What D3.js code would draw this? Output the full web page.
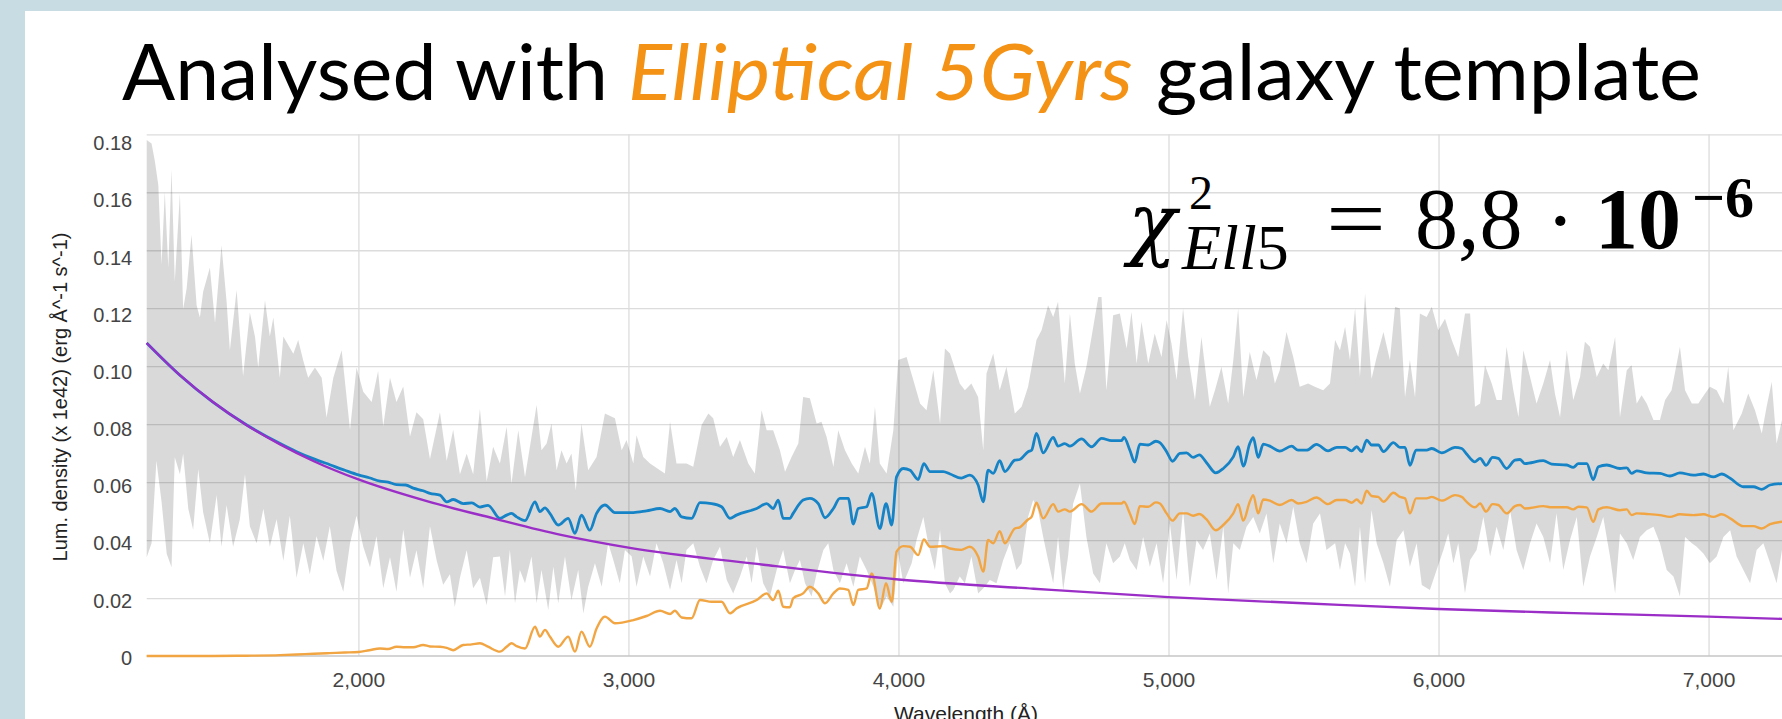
<!DOCTYPE html>
<html>
<head>
<meta charset="utf-8">
<script src="https://cdn.jsdelivr.net/npm/d3@7"></script>
<style>
  body { margin: 0; background: #c8dce4; overflow: hidden; }
  svg { display: block; }
</style>
</head>
<body>
<svg id="chart"></svg>
<script>
// Ticks
var xTicks = [2000, 3000, 4000, 5000, 6000, 7000];
var yTicks = [0, 0.02, 0.04, 0.06, 0.08, 0.10, 0.12, 0.14, 0.16, 0.18];
var yTickLabels = ["0", "0.02", "0.04", "0.06", "0.08", "0.10", "0.12", "0.14", "0.16", "0.18"];

// Observed spectrum uncertainty band, [wavelength, value]
var bandTop = [
  [1216,0.178],[1234,0.1768],[1246,0.1709],[1259,0.1625],[1271,0.1352],[1283,0.1602],[1296,0.134],[1308,0.1679],[1320,0.1292],[1339,0.1596],
  [1351,0.1197],[1364,0.1269],[1382,0.1453],[1401,0.1209],[1413,0.1168],[1425,0.1257],[1450,0.134],[1469,0.115],[1493,0.1417],[1512,0.1221],
  [1524,0.1055],[1549,0.1263],[1573,0.0966],[1598,0.1185],[1617,0.1102],[1629,0.0995],[1654,0.1227],[1672,0.1102],[1685,0.1168],[1709,0.096],
  [1722,0.1102],[1759,0.1043],[1777,0.109],[1796,0.1019],[1814,0.096],[1839,0.0995],[1864,0.096],[1882,0.0823],[1907,0.096],[1938,0.1055],
  [1969,0.0781],[1993,0.0995],[2018,0.0912],[2049,0.0876],[2073,0.0983],[2092,0.0793],[2117,0.096],[2141,0.0876],[2166,0.093],[2191,0.0757],
  [2215,0.0841],[2240,0.0817],[2265,0.068],[2302,0.0841],[2327,0.0674],[2351,0.0781],[2376,0.0627],[2401,0.0698],[2425,0.0627],[2450,0.0853],
  [2475,0.0603],[2499,0.0722],[2524,0.0664],[2549,0.0791],[2567,0.0595],[2592,0.0779],[2617,0.0618],[2641,0.0756],[2660,0.0866],[2678,0.071],
  [2697,0.0733],[2715,0.0802],[2734,0.0641],[2752,0.071],[2771,0.0664],[2789,0.0699],[2805,0.0572],[2826,0.0802],[2851,0.0641],[2882,0.0687],
  [2913,0.0837],[2950,0.082],[2975,0.071],[2993,0.0745],[3018,0.0664],[3030,0.0762],[3055,0.0687],[3080,0.0664],[3117,0.0641],[3135,0.063],
  [3154,0.0808],[3178,0.0664],[3215,0.0664],[3240,0.0653],[3271,0.0797],[3296,0.0837],[3314,0.082],[3339,0.0722],[3364,0.0756],[3388,0.0687],
  [3413,0.0745],[3444,0.0664],[3468,0.063],[3493,0.0848],[3512,0.0779],[3536,0.0779],[3561,0.071],[3580,0.0636],[3604,0.0687],[3629,0.0733],
  [3647,0.0894],[3672,0.0889],[3697,0.0802],[3715,0.0808],[3734,0.0756],[3759,0.0653],[3777,0.0779],[3802,0.071],[3827,0.0664],[3851,0.063],
  [3876,0.0722],[3894,0.0664],[3913,0.086],[3931,0.0664],[3956,0.063],[3981,0.0779],[3999,0.1021],[4030,0.1032],[4055,0.0952],[4080,0.0871],
  [4104,0.0848],[4129,0.0986],[4154,0.0802],[4172,0.1061],[4191,0.1044],[4227,0.094],[4246,0.0917],[4270,0.094],[4295,0.0894],[4314,0.071],
  [4326,0.0975],[4351,0.1044],[4375,0.0917],[4400,0.0998],[4431,0.0837],[4456,0.086],[4480,0.0929],[4511,0.109],[4530,0.1124],[4554,0.121],
  [4573,0.117],[4591,0.1222],[4616,0.094],[4635,0.1182],[4653,0.1009],[4672,0.0906],[4696,0.0998],[4715,0.1101],[4740,0.1239],[4752,0.1239],
  [4770,0.0917],[4795,0.1176],[4820,0.1182],[4845,0.1061],[4863,0.1187],[4882,0.1009],[4900,0.1153],[4925,0.1009],[4949,0.1113],[4974,0.1032],
  [4993,0.1159],[5011,0.1078],[5030,0.0952],[5054,0.1199],[5073,0.1032],[5098,0.0883],[5122,0.1101],[5153,0.086],[5172,0.0917],[5196,0.0998],
  [5221,0.0871],[5240,0.1021],[5258,0.1199],[5277,0.0894],[5301,0.1049],[5326,0.0952],[5351,0.1055],[5375,0.1032],[5394,0.094],[5412,0.0986],
  [5437,0.1118],[5462,0.1032],[5486,0.0929],[5517,0.094],[5542,0.0929],[5573,0.0917],[5598,0.094],[5617,0.109],[5635,0.1055],[5654,0.1136],
  [5672,0.1021],[5691,0.1199],[5709,0.0963],[5728,0.1251],[5752,0.0957],[5771,0.1032],[5796,0.1118],[5820,0.1021],[5839,0.1205],[5857,0.1199],
  [5876,0.0894],[5894,0.1021],[5913,0.0894],[5931,0.1182],[5956,0.117],[5975,0.1205],[5999,0.1124],[6024,0.1164],[6049,0.109],[6073,0.1032],
  [6098,0.1182],[6117,0.1182],[6135,0.086],[6154,0.0871],[6172,0.1003],[6197,0.094],[6215,0.0883],[6234,0.0883],[6252,0.1067],[6277,0.0917],
  [6296,0.0825],[6314,0.1055],[6339,0.0963],[6363,0.0871],[6388,0.094],[6413,0.1021],[6431,0.0906],[6450,0.0825],[6475,0.1055],[6499,0.0883],
  [6524,0.0963],[6542,0.1084],[6561,0.1067],[6586,0.0963],[6610,0.1009],[6629,0.0986],[6654,0.1101],[6672,0.0825],[6697,0.0986],[6715,0.1003],
  [6734,0.0871],[6752,0.09],[6771,0.0871],[6796,0.0814],[6820,0.0814],[6839,0.0883],[6863,0.0917],[6894,0.1067],[6913,0.0917],[6938,0.0871],
  [6962,0.0871],[6987,0.0906],[7005,0.0929],[7030,0.0917],[7055,0.0871],[7073,0.0998],[7092,0.0779],[7123,0.0837],[7147,0.0906],[7172,0.0848],
  [7197,0.0768],[7215,0.086],[7234,0.0946],[7252,0.0733],[7272,0.0814]
];

var bandBottom = [
  [1216,0.0341],[1234,0.0389],[1252,0.0674],[1271,0.0532],[1290,0.0353],[1308,0.0306],[1320,0.0686],[1339,0.0627],[1351,0.0698],[1370,0.0508],
  [1388,0.0436],[1407,0.0644],[1425,0.0496],[1450,0.0389],[1475,0.0555],[1493,0.0377],[1512,0.052],[1536,0.0377],[1561,0.0472],[1580,0.0627],
  [1598,0.0448],[1623,0.0389],[1648,0.0508],[1672,0.0377],[1697,0.0472],[1722,0.0329],[1746,0.0484],[1771,0.027],[1796,0.0389],[1820,0.0282],
  [1845,0.0413],[1870,0.0329],[1894,0.0448],[1919,0.0294],[1944,0.0222],[1969,0.0389],[1993,0.0484],[2018,0.0377],[2043,0.0306],[2067,0.0413],
  [2092,0.0234],[2117,0.0341],[2141,0.0222],[2166,0.0436],[2191,0.027],[2215,0.0365],[2240,0.0234],[2265,0.0448],[2290,0.0329],[2314,0.0246],
  [2339,0.0282],[2357,0.0169],[2376,0.027],[2401,0.0365],[2425,0.0234],[2450,0.027],[2475,0.0175],[2499,0.0341],[2524,0.0343],[2543,0.0205],
  [2561,0.0366],[2580,0.0182],[2598,0.0297],[2617,0.0251],[2641,0.0343],[2660,0.0182],[2678,0.0297],[2703,0.0159],[2722,0.0308],[2740,0.0182],
  [2765,0.0343],[2789,0.0193],[2814,0.0297],[2833,0.0147],[2851,0.0239],[2876,0.032],[2901,0.0239],[2925,0.0389],[2944,0.0331],[2968,0.0251],
  [2987,0.0366],[3012,0.0343],[3030,0.0239],[3055,0.0343],[3080,0.0274],[3104,0.0389],[3129,0.032],[3154,0.0228],[3178,0.0331],[3197,0.0251],
  [3215,0.0366],[3240,0.0389],[3265,0.0308],[3289,0.0251],[3314,0.0331],[3339,0.0377],[3364,0.0262],[3388,0.0216],[3413,0.0274],[3438,0.0343],
  [3456,0.0251],[3475,0.0377],[3499,0.0251],[3524,0.0205],[3549,0.0297],[3573,0.0366],[3598,0.0251],[3617,0.0297],[3635,0.0331],[3654,0.0251],
  [3678,0.0205],[3697,0.0285],[3722,0.0366],[3740,0.0389],[3759,0.0297],[3783,0.0251],[3808,0.032],[3833,0.0239],[3857,0.0343],[3882,0.0297],
  [3907,0.0239],[3931,0.0159],[3956,0.0205],[3981,0.017],[3999,0.0354],[4018,0.0251],[4049,0.032],[4067,0.04],[4092,0.048],[4110,0.0389],
  [4135,0.0297],[4154,0.0434],[4172,0.0251],[4191,0.0216],[4203,0.0228],[4227,0.0274],[4246,0.0251],[4270,0.0343],[4295,0.0216],[4320,0.0239],
  [4338,0.0262],[4363,0.0251],[4388,0.0331],[4412,0.0389],[4437,0.0297],[4456,0.032],[4480,0.048],[4499,0.0538],[4517,0.0503],[4536,0.0411],
  [4554,0.0331],[4573,0.0251],[4591,0.0411],[4610,0.0228],[4628,0.0343],[4647,0.0526],[4672,0.0595],[4696,0.0411],[4721,0.0285],[4746,0.0251],
  [4770,0.0389],[4795,0.032],[4820,0.0343],[4838,0.0389],[4857,0.0331],[4882,0.0297],[4906,0.0411],[4931,0.0308],[4956,0.0389],[4980,0.0251],
  [5005,0.0457],[5030,0.0262],[5054,0.0503],[5079,0.0239],[5104,0.04],[5128,0.0366],[5153,0.0423],[5178,0.0262],[5203,0.0446],[5221,0.0216],
  [5240,0.0389],[5264,0.0366],[5289,0.0446],[5314,0.048],[5338,0.0423],[5363,0.0492],[5388,0.032],[5412,0.0457],[5437,0.0389],[5462,0.0515],
  [5486,0.0389],[5511,0.032],[5536,0.0457],[5561,0.0492],[5585,0.0366],[5617,0.0389],[5635,0.0297],[5654,0.0389],[5672,0.0354],[5691,0.0239],
  [5709,0.0446],[5728,0.0251],[5752,0.0503],[5771,0.0389],[5796,0.032],[5820,0.0239],[5845,0.04],[5870,0.0434],[5894,0.0308],[5919,0.0389],
  [5938,0.0245],[5968,0.0228],[5993,0.0297],[6018,0.0366],[6036,0.0423],[6055,0.032],[6073,0.0389],[6098,0.0216],[6117,0.0331],[6141,0.0366],
  [6166,0.048],[6191,0.0343],[6215,0.0446],[6240,0.0366],[6265,0.0503],[6289,0.0366],[6314,0.0297],[6339,0.0389],[6363,0.0457],[6388,0.0411],
  [6413,0.032],[6437,0.0492],[6462,0.0297],[6487,0.04],[6512,0.048],[6536,0.0239],[6561,0.0343],[6586,0.0411],[6610,0.048],[6635,0.0343],
  [6654,0.0216],[6672,0.0423],[6697,0.0389],[6721,0.0331],[6746,0.0411],[6771,0.0434],[6796,0.0446],[6820,0.0389],[6845,0.0297],[6870,0.0274],
  [6894,0.0205],[6913,0.0411],[6938,0.0389],[6956,0.0377],[6981,0.0354],[7005,0.032],[7030,0.0343],[7055,0.0411],[7080,0.0434],[7104,0.0343],
  [7129,0.0297],[7154,0.0251],[7178,0.0366],[7203,0.0389],[7228,0.032],[7252,0.0251],[7272,0.0366]
];

// Total fit (blue)
var totalFit = [
  [1216,0.108],[1340,0.0968],[1460,0.0877],[1585,0.0798],[1710,0.0733],[1771,0.0705],[1835,0.068],[1894,0.066],[1950,0.0641],[2000,0.0625],
  [2040,0.0615],[2080,0.0603],[2110,0.06],[2141,0.0591],[2175,0.059],[2203,0.0579],[2240,0.057],[2265,0.0561],[2302,0.0555],[2327,0.0532],
  [2351,0.054],[2388,0.0526],[2420,0.0528],[2450,0.0514],[2480,0.052],[2524,0.0475],[2549,0.0486],[2567,0.0492],[2586,0.048],[2617,0.0467],
  [2654,0.0532],[2672,0.0498],[2691,0.0511],[2709,0.0492],[2740,0.0452],[2777,0.0475],[2802,0.0423],[2826,0.0486],[2857,0.0434],[2882,0.0492],
  [2913,0.0521],[2950,0.0495],[3018,0.0495],[3067,0.0501],[3117,0.0509],[3154,0.0498],[3172,0.0509],[3197,0.048],[3234,0.0475],[3265,0.0529],
  [3308,0.0526],[3345,0.0515],[3376,0.0475],[3400,0.0486],[3475,0.0509],[3512,0.0526],[3536,0.0509],[3555,0.0538],[3573,0.0475],[3598,0.0475],
  [3610,0.0492],[3647,0.0538],[3672,0.0544],[3703,0.0526],[3728,0.0477],[3759,0.0509],[3783,0.0544],[3814,0.0544],[3833,0.0455],[3851,0.0509],
  [3882,0.0515],[3901,0.0561],[3931,0.044],[3954,0.0526],[3975,0.0452],[3993,0.0618],[4018,0.0647],[4043,0.0641],[4073,0.0609],[4094,0.0664],
  [4117,0.0636],[4166,0.0636],[4191,0.0628],[4233,0.0614],[4264,0.0624],[4295,0.059],[4314,0.0532],[4332,0.0641],[4351,0.063],[4375,0.0674],
  [4394,0.0636],[4431,0.0676],[4449,0.0678],[4480,0.0705],[4493,0.071],[4511,0.0768],[4536,0.0701],[4573,0.0754],[4591,0.0724],[4616,0.0733],
  [4635,0.0724],[4678,0.0749],[4715,0.0722],[4752,0.0751],[4789,0.0743],[4826,0.0743],[4835,0.0754],[4857,0.071],[4875,0.0669],[4894,0.0731],
  [4925,0.0728],[4953,0.0741],[4968,0.0736],[4993,0.0705],[5015,0.0672],[5042,0.0699],[5067,0.0701],[5091,0.0685],[5114,0.0694],[5141,0.0667],
  [5175,0.0632],[5203,0.0647],[5240,0.0687],[5258,0.0722],[5277,0.0655],[5301,0.0733],[5314,0.0753],[5332,0.0685],[5351,0.0731],[5375,0.0724],
  [5412,0.0707],[5456,0.0724],[5480,0.071],[5511,0.071],[5548,0.073],[5591,0.0708],[5623,0.072],[5654,0.072],[5678,0.0708],[5697,0.0722],
  [5715,0.0705],[5734,0.0745],[5752,0.0728],[5777,0.0728],[5796,0.0705],[5833,0.0736],[5857,0.072],[5876,0.072],[5894,0.0658],[5917,0.071],
  [5956,0.071],[5975,0.0716],[6012,0.0701],[6061,0.072],[6086,0.0716],[6104,0.0697],[6135,0.067],[6154,0.0682],[6176,0.0658],[6200,0.0685],
  [6221,0.0682],[6252,0.0647],[6283,0.0676],[6302,0.0678],[6320,0.0664],[6388,0.0674],[6419,0.0662],[6475,0.0659],[6499,0.0651],[6518,0.0664],
  [6549,0.0664],[6573,0.0609],[6592,0.0653],[6623,0.0659],[6672,0.0647],[6697,0.0649],[6715,0.063],[6734,0.0639],[6771,0.0632],[6820,0.063],
  [6857,0.0621],[6894,0.0632],[6944,0.0624],[6981,0.0628],[7018,0.0618],[7049,0.0628],[7080,0.0613],[7129,0.0584],[7166,0.0584],[7197,0.0575],
  [7228,0.059],[7272,0.0595]
];

// Galaxy template part (orange)
var galaxyFit = [
  [1216,0],[1340,0],[1460,0],[1585,0.0001],[1710,0.0003],[1771,0.0005],[1835,0.0008],[1894,0.001],[1950,0.0012],[2000,0.0014],
  [2040,0.002],[2080,0.0026],[2110,0.0024],[2141,0.0032],[2175,0.003],[2203,0.003],[2240,0.0038],[2265,0.0033],[2302,0.0032],[2327,0.0028],
  [2351,0.002],[2388,0.0038],[2420,0.004],[2450,0.0044],[2480,0.0032],[2524,0.0015],[2549,0.0032],[2567,0.0044],[2586,0.0034],[2617,0.0026],
  [2654,0.0101],[2672,0.0067],[2691,0.009],[2709,0.0067],[2740,0.0032],[2777,0.0067],[2802,0.0015],[2826,0.0084],[2857,0.0032],[2882,0.0095],
  [2913,0.0136],[2950,0.0113],[3018,0.0124],[3067,0.0138],[3117,0.0156],[3154,0.0145],[3172,0.0156],[3197,0.0133],[3234,0.013],[3265,0.0193],
  [3308,0.0187],[3345,0.0187],[3376,0.0147],[3400,0.0164],[3475,0.0193],[3512,0.0216],[3536,0.0193],[3555,0.0225],[3573,0.017],[3598,0.0168],
  [3610,0.0199],[3647,0.0216],[3672,0.0239],[3703,0.0216],[3728,0.0182],[3759,0.0216],[3783,0.0233],[3814,0.0228],[3833,0.0176],[3851,0.0228],
  [3882,0.0233],[3901,0.0285],[3931,0.0164],[3954,0.0251],[3975,0.0187],[3993,0.036],[4018,0.0379],[4043,0.0377],[4073,0.0348],[4094,0.0402],
  [4117,0.0377],[4166,0.0379],[4191,0.0371],[4233,0.0366],[4264,0.0377],[4295,0.0343],[4314,0.0291],[4332,0.04],[4351,0.0389],[4375,0.0431],
  [4394,0.0389],[4431,0.044],[4449,0.0444],[4480,0.0471],[4493,0.048],[4511,0.0529],[4536,0.0475],[4573,0.0524],[4591,0.0498],[4616,0.0506],
  [4635,0.0498],[4678,0.0524],[4715,0.0498],[4752,0.0526],[4789,0.0526],[4826,0.0526],[4835,0.0532],[4857,0.0492],[4875,0.0455],[4894,0.0517],
  [4925,0.0515],[4953,0.053],[4968,0.0526],[4993,0.0492],[5015,0.0467],[5042,0.0492],[5067,0.0492],[5091,0.0484],[5114,0.049],[5141,0.0471],
  [5175,0.0434],[5203,0.0452],[5240,0.0492],[5258,0.0524],[5277,0.0467],[5301,0.0532],[5314,0.0555],[5332,0.0492],[5351,0.054],[5375,0.0536],
  [5412,0.0521],[5456,0.0538],[5480,0.0526],[5511,0.0532],[5548,0.0547],[5591,0.0524],[5623,0.0538],[5654,0.0538],[5678,0.0529],[5697,0.054],
  [5715,0.0526],[5734,0.057],[5752,0.0552],[5777,0.0549],[5796,0.0532],[5833,0.0563],[5857,0.0549],[5876,0.0544],[5894,0.0492],[5917,0.0544],
  [5956,0.0544],[5975,0.0549],[6012,0.0536],[6061,0.0555],[6086,0.0549],[6104,0.0532],[6135,0.0513],[6154,0.0526],[6176,0.0498],[6200,0.0524],
  [6221,0.0521],[6252,0.0492],[6283,0.0517],[6302,0.0521],[6320,0.0509],[6388,0.0517],[6419,0.0513],[6475,0.0513],[6499,0.0506],[6518,0.0515],
  [6549,0.0513],[6573,0.0463],[6592,0.0506],[6623,0.0513],[6672,0.0503],[6697,0.0506],[6715,0.0486],[6734,0.0492],[6771,0.049],[6820,0.0486],
  [6857,0.048],[6894,0.0489],[6944,0.0486],[6981,0.0489],[7018,0.048],[7049,0.0489],[7080,0.0475],[7129,0.0448],[7166,0.0448],[7197,0.044],
  [7228,0.0455],[7272,0.0463]
];

// Power-law part (purple)
var agnFit = [
  [1216,0.108],[1340,0.0968],[1460,0.0877],[1585,0.0797],[1710,0.073],[1835,0.0672],[2000,0.0609],[2250,0.0535],[2500,0.0475],[2750,0.0418],
  [3000,0.0374],[3500,0.0315],[4000,0.0264],[4500,0.0232],[5000,0.0203],[5500,0.0182],[6000,0.0162],[6500,0.0148],[7000,0.0136],[7272,0.0128]
];

// Layout
var plotLeft = 146.7, plotRight = 1782, plotTop = 134.3, plotBottom = 656;

var svg = d3.select("#chart").attr("width", 1782).attr("height", 719);

// white slide panel
svg.append("rect")
  .attr("x", 25).attr("y", 11)
  .attr("width", 1757).attr("height", 708)
  .attr("fill", "#fff");

var xScale = d3.scaleLinear().domain([1216, 7272]).range([plotLeft, plotRight]);
var yScale = d3.scaleLinear().domain([0, 0.18]).range([plotBottom, plotTop]);
// the label column of the pasted chart is a touch compressed vs the grid
var yLabelScale = d3.scaleLinear().domain([0, 0.18]).range([657, 142.6]);

// Gridlines
var xGrid = svg.append("g")
  .attr("transform", "translate(0," + plotBottom + ")")
  .call(d3.axisBottom(xScale).tickValues(xTicks).tickSize(-(plotBottom - plotTop)).tickFormat(""));
xGrid.select(".domain").remove();
xGrid.selectAll(".tick line").attr("stroke", "#dcdcdc").attr("stroke-width", 1.3);

var yGrid = svg.append("g")
  .attr("transform", "translate(" + plotLeft + ",0)")
  .call(d3.axisLeft(yScale).tickValues(yTicks.slice(1)).tickSize(-(plotRight - plotLeft)).tickFormat(""));
yGrid.select(".domain").remove();
yGrid.selectAll(".tick line").attr("stroke", "#dcdcdc").attr("stroke-width", 1.3);

// Uncertainty band
var line = d3.line()
  .x(function(d) { return xScale(d[0]); })
  .y(function(d) { return yScale(d[1]); });

var smoothLine = d3.line()
  .x(function(d) { return xScale(d[0]); })
  .y(function(d) { return yScale(d[1]); })
  .curve(d3.curveMonotoneX);

var bandPoints = bandTop.concat(bandBottom.slice().reverse());
svg.append("path")
  .attr("d", line(bandPoints) + "Z")
  .attr("fill", "#000")
  .attr("fill-opacity", 0.15);

// baseline
svg.append("line")
  .attr("x1", plotLeft).attr("x2", plotRight)
  .attr("y1", yScale(0)).attr("y2", yScale(0))
  .attr("stroke", "#c6c6c6")
  .attr("stroke-width", 1.6);

// Fitted components
svg.append("path")
  .attr("d", smoothLine(galaxyFit))
  .attr("fill", "none")
  .attr("stroke", "#f2a543")
  .attr("stroke-width", 2.4)
  .attr("stroke-linejoin", "round");

svg.append("path")
  .attr("d", smoothLine(totalFit))
  .attr("fill", "none")
  .attr("stroke", "#1583c6")
  .attr("stroke-width", 2.8)
  .attr("stroke-linejoin", "round");

svg.append("path")
  .attr("d", smoothLine(agnFit))
  .attr("fill", "none")
  .attr("stroke", "#9a2ec6")
  .attr("stroke-width", 2.4);

// X axis labels
var xAxis = svg.append("g")
  .attr("transform", "translate(0," + plotBottom + ")")
  .call(d3.axisBottom(xScale).tickValues(xTicks).tickSize(0).tickFormat(d3.format(",")));
xAxis.select(".domain").remove();
xAxis.selectAll("text")
  .attr("y", 31)
  .attr("dy", 0)
  .style("font-family", "'Liberation Sans', Arial, sans-serif")
  .style("font-size", "21px")
  .style("fill", "#444");

// Y axis labels
var yAxis = svg.append("g")
  .attr("transform", "translate(" + plotLeft + ",0)")
  .call(d3.axisLeft(yScale).tickValues(yTicks).tickSize(0).tickPadding(14.5)
    .tickFormat(function(d, i) { return yTickLabels[i]; }));
yAxis.select(".domain").remove();
yAxis.selectAll("text")
  .attr("y", function(d) { return yLabelScale(d) - yScale(d); })
  .attr("dy", "0.36em")
  .style("font-family", "'Liberation Sans', Arial, sans-serif")
  .style("font-size", "20px")
  .style("fill", "#444");

// Axis titles
svg.append("text")
  .attr("transform", "translate(67,397) rotate(-90)")
  .attr("text-anchor", "middle")
  .style("font-family", "'Liberation Sans', Arial, sans-serif")
  .style("font-size", "20px")
  .style("fill", "#222")
  .text("Lum. density (x 1e42) (erg Å^-1 s^-1)");

// x title is cut by the slide edge, as in the original screenshot
svg.append("text")
  .attr("x", 966).attr("y", 721)
  .attr("text-anchor", "middle")
  .style("font-family", "'Liberation Sans', Arial, sans-serif")
  .style("font-size", "21px")
  .style("fill", "#222")
  .text("Wavelength (Å)");

// Slide title
var titleFont = "Lato, 'Open Sans', sans-serif";
svg.append("text")
  .attr("x", 122).attr("y", 100)
  .attr("textLength", 486).attr("lengthAdjust", "spacingAndGlyphs")
  .style("font-family", titleFont).style("font-size", "77px").style("fill", "#000")
  .text("Analysed with");
svg.append("text")
  .attr("x", 628).attr("y", 100)
  .attr("textLength", 505).attr("lengthAdjust", "spacingAndGlyphs")
  .style("font-family", titleFont).style("font-size", "77px").style("font-style", "italic")
  .style("fill", "#f39214")
  .text("Elliptical 5Gyrs");
svg.append("text")
  .attr("x", 1156).attr("y", 100)
  .attr("textLength", 545).attr("lengthAdjust", "spacingAndGlyphs")
  .style("font-family", titleFont).style("font-size", "77px").style("fill", "#000")
  .text("galaxy template");

// chi-squared annotation, one text with positioned pieces
var mathFont = "'Liberation Serif', 'DejaVu Serif', serif";
var chi = svg.append("text")
  .style("font-family", mathFont)
  .style("font-size", "86px")
  .style("fill", "#000");
chi.append("tspan").attr("x", 1128).attr("y", 250)
  .style("font-family", "'DejaVu Serif', serif").style("font-style", "italic").style("font-size", "80px")
  .text("χ");
chi.append("tspan").attr("x", 1189).attr("y", 209)
  .style("font-size", "48px").text("2");
chi.append("tspan").attr("x", 1182).attr("y", 269)
  .style("font-size", "64px").style("font-style", "italic").text("Ell");
chi.append("tspan").attr("y", 269)
  .style("font-size", "64px").text("5");
chi.append("tspan").attr("x", 1326).attr("y", 248)
  .attr("textLength", 60).attr("lengthAdjust", "spacingAndGlyphs").text("=");
chi.append("tspan").attr("x", 1415).attr("y", 248).text("8,8");
chi.append("tspan").attr("x", 1546).attr("y", 250).text("·");
chi.append("tspan").attr("x", 1595).attr("y", 248)
  .style("font-weight", "bold").text("10");
chi.append("tspan").attr("x", 1692).attr("y", 217)
  .style("font-size", "58px").style("font-weight", "bold").text("−6");
</script>
</body>
</html>
